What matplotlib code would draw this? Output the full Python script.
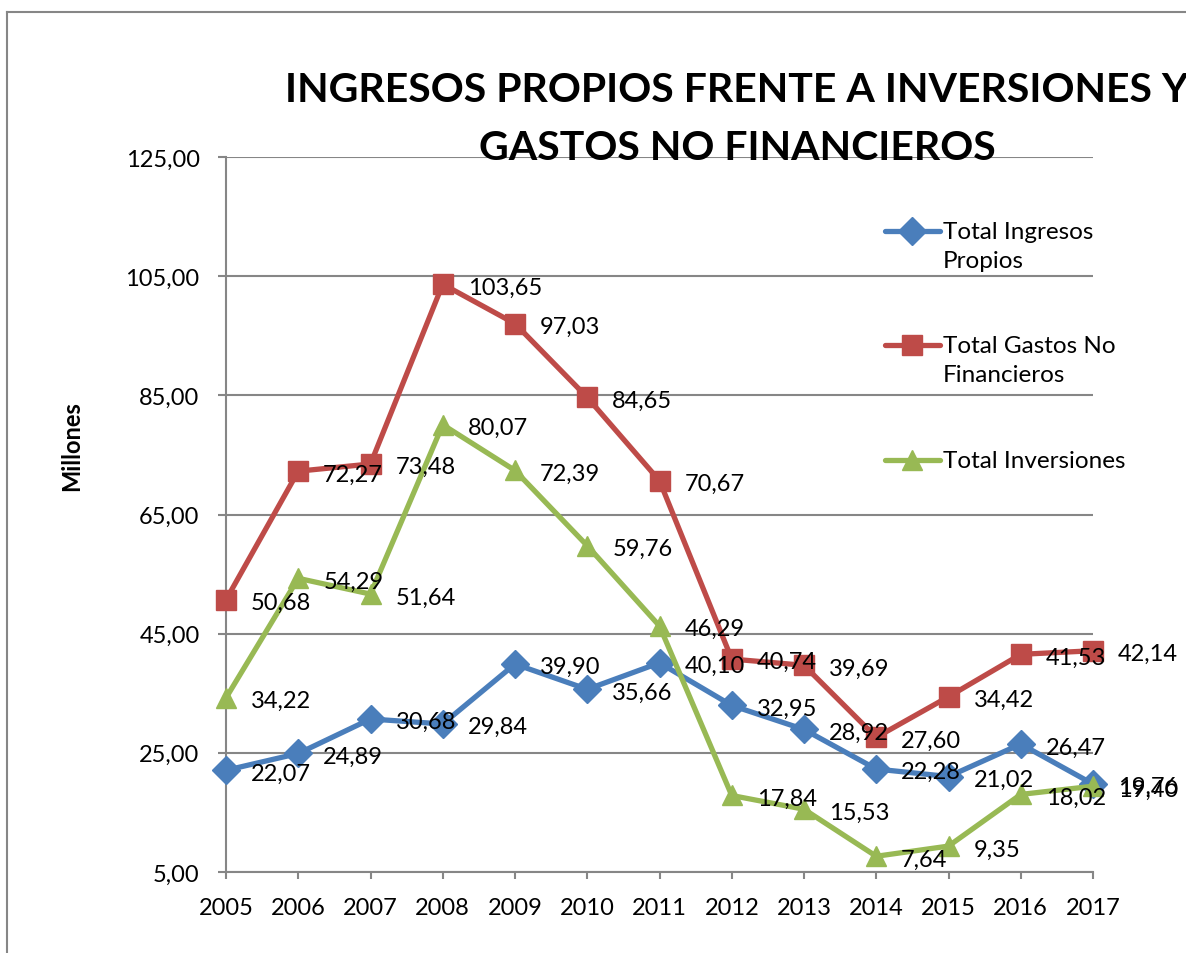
import matplotlib
matplotlib.use('Agg')
import matplotlib.pyplot as plt
from matplotlib.lines import Line2D

plt.rcParams['font.family'] = ['Lato', 'DejaVu Sans']

# Data (millones)
years = ['2005', '2006', '2007', '2008', '2009', '2010', '2011',
         '2012', '2013', '2014', '2015', '2016', '2017']
ingresos = [22.07, 24.89, 30.68, 29.84, 39.90, 35.66, 40.10,
            32.95, 28.92, 22.28, 21.02, 26.47, 19.76]
gastos = [50.68, 72.27, 73.48, 103.65, 97.03, 84.65, 70.67,
          40.74, 39.69, 27.60, 34.42, 41.53, 42.14]
inversiones = [34.22, 54.29, 51.64, 80.07, 72.39, 59.76, 46.29,
               17.84, 15.53, 7.64, 9.35, 18.02, 19.40]
y_ticks = [5, 25, 45, 65, 85, 105, 125]

series = [
    ('Total Ingresos\nPropios', ingresos, '#4A7EBB', 'D', 14),
    ('Total Gastos No\nFinancieros', gastos, '#BE4B48', 's', 14),
    ('Total Inversiones', inversiones, '#98B954', '^', 15),
]

W, H = 1186, 954
fig = plt.figure(figsize=(W / 100, H / 100), dpi=100)
ax = fig.add_axes([226 / W, 1 - 873 / H, (1093 - 226) / W, (873 - 158) / H])

grid_col = '#868686'
x = list(range(len(years)))

for name, vals, col, mk, ms in series:
    ax.plot(x, vals, color=col, lw=3.8, marker=mk, markersize=ms,
            markeredgecolor=col, solid_joinstyle='round', zorder=3,
            clip_on=False)

# data labels to the right of each point
for name, vals, col, mk, ms in series:
    for xi, v in zip(x, vals):
        ax.annotate(f'{v:.2f}'.replace('.', ','), (xi, v),
                    xytext=(18, -2), textcoords='offset points',
                    fontsize=17, va='center', ha='left', color='black',
                    zorder=5, annotation_clip=False)

ax.set_xlim(0, len(years) - 1)
ax.set_ylim(5, 125)
ax.set_yticks(y_ticks)
ax.set_yticklabels([f'{t:.2f}'.replace('.', ',') for t in y_ticks])
ax.set_xticks(x)
ax.set_xticklabels(years)
ax.tick_params(axis='both', labelsize=17, color=grid_col, width=1.5)
ax.tick_params(axis='x', length=5, direction='out', pad=13)
ax.tick_params(axis='y', length=6, direction='out', pad=13)
ax.yaxis.grid(True, color=grid_col, lw=1.5)
ax.set_axisbelow(True)
for s in ['top', 'right']:
    ax.spines[s].set_visible(False)
for s in ['left', 'bottom']:
    ax.spines[s].set_color(grid_col)
    ax.spines[s].set_linewidth(1.5)

fig.text(72 / W, 1 - 446 / H, 'Millones', rotation=90, fontsize=17,
         fontweight='bold', ha='center', va='center')

# title (runs past the right edge like the original)
fig.text(737 / W, 1 - 90 / H, 'INGRESOS PROPIOS FRENTE A INVERSIONES Y',
         fontsize=29.5, fontweight='bold', ha='center', va='center')
fig.text(737 / W, 1 - 148 / H, 'GASTOS NO FINANCIEROS',
         fontsize=29.5, fontweight='bold', ha='center', va='center')

# legend drawn by hand
leg_y = [232, 346, 461]
for (name, vals, col, mk, ms), ly in zip(series, leg_y):
    yf = 1 - ly / H
    fig.add_artist(Line2D([885 / W, 940 / W], [yf, yf], color=col, lw=3.8,
                          solid_capstyle='round'))
    fig.add_artist(Line2D([912 / W], [yf], color=col, marker=mk,
                          markersize=ms, markeredgecolor=col))
    fig.text(943 / W, yf + 10 / H, name, fontsize=17.5, ha='left', va='top',
             linespacing=1.45)

# chart area border
fig.add_artist(Line2D([7 / W, 7 / W], [0, 1 - 13 / H], color=grid_col, lw=1.5))
fig.add_artist(Line2D([7 / W, 1], [1 - 13 / H, 1 - 13 / H], color=grid_col, lw=1.5))

fig.savefig('out.png', dpi=100)
